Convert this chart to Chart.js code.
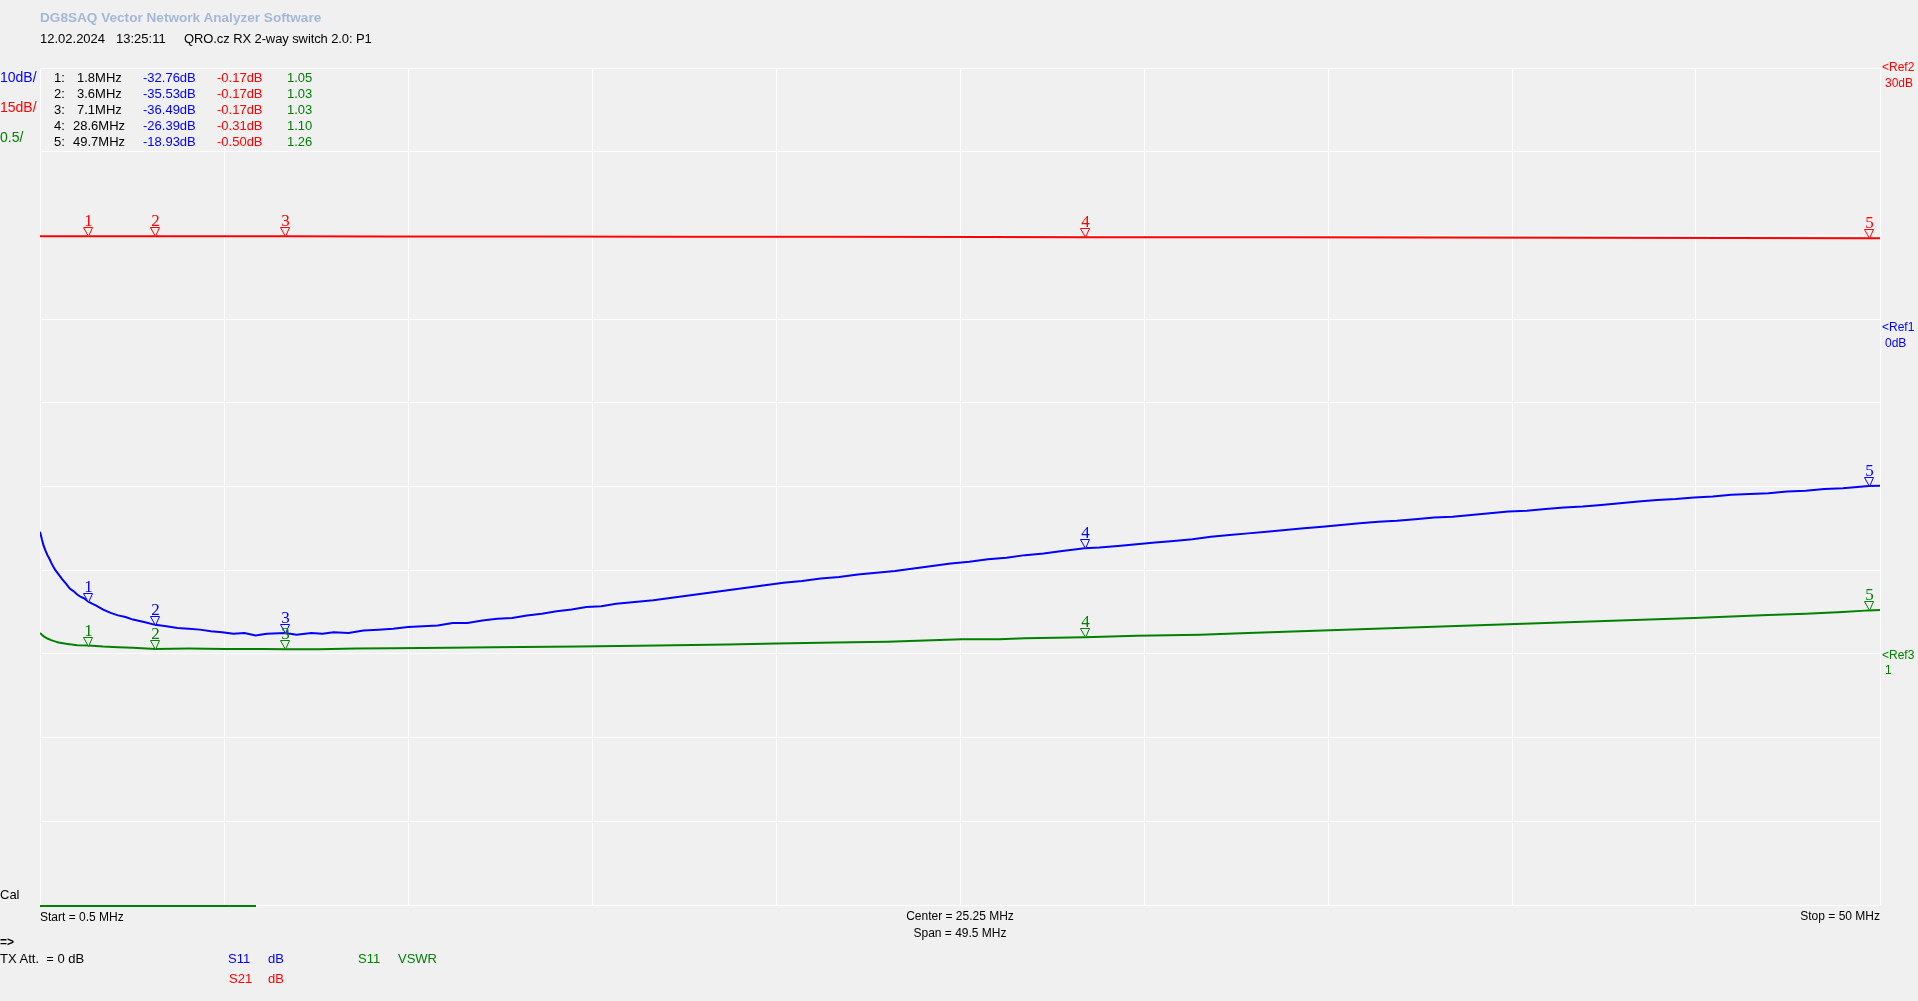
<!DOCTYPE html>
<html>
<head>
<meta charset="utf-8">
<title>DG8SAQ VNA - QRO.cz RX 2-way switch 2.0</title>
<script src="https://cdn.jsdelivr.net/npm/chart.js@4.4.1/dist/chart.umd.min.js"></script>
<style>
  html, body { margin: 0; padding: 0; background: #f0f0f0; overflow: hidden; }
  #wrap { position: relative; width: 1918px; height: 1001px; }
  #chart { position: absolute; left: 0; top: 0; }
  .t { position: absolute; font-family: "Liberation Sans", Arial, sans-serif; white-space: pre; line-height: 1; color: #000; }
  .s12 { font-size: 12px; }
  .s13 { font-size: 13px; }
  .s14 { font-size: 14px; }
  .blue { color: #0000ff; }
  .red { color: #ff0000; }
  .green { color: #008000; }
  .ctr { transform: translateX(-50%); }
</style>
</head>
<body>
<div id="wrap">
  <canvas id="chart" width="1918" height="1001"></canvas>

  <!-- header -->
  <div class="t" style="left:40px;top:11px;font-size:13.6px;font-weight:bold;color:#a3b8d8;">DG8SAQ Vector Network Analyzer Software</div>
  <div class="t s13" style="left:40px;top:32px;">12.02.2024</div>
  <div class="t s13" style="left:116px;top:32px;">13:25:11</div>
  <div class="t s13" style="left:184px;top:32px;letter-spacing:-0.1px;">QRO.cz RX 2-way switch 2.0: P1</div>

  <!-- scale per division -->
  <div class="t s14 blue" style="left:0;top:70px;">10dB/</div>
  <div class="t s14 red" style="left:0;top:100px;">15dB/</div>
  <div class="t s14 green" style="left:0;top:130px;">0.5/</div>

  <!-- marker table -->
  <div class="t s13" style="left:54px;top:71px;">1:</div>
  <div class="t s13" style="left:54px;top:87px;">2:</div>
  <div class="t s13" style="left:54px;top:103px;">3:</div>
  <div class="t s13" style="left:54px;top:119px;">4:</div>
  <div class="t s13" style="left:54px;top:135px;">5:</div>
  <div class="t s13" style="left:77px;top:71px;">1.8MHz</div>
  <div class="t s13" style="left:77px;top:87px;">3.6MHz</div>
  <div class="t s13" style="left:77px;top:103px;">7.1MHz</div>
  <div class="t s13" style="left:73px;top:119px;">28.6MHz</div>
  <div class="t s13" style="left:73px;top:135px;">49.7MHz</div>
  <div class="t s13 blue" style="left:143px;top:71px;">-32.76dB</div>
  <div class="t s13 blue" style="left:143px;top:87px;">-35.53dB</div>
  <div class="t s13 blue" style="left:143px;top:103px;">-36.49dB</div>
  <div class="t s13 blue" style="left:143px;top:119px;">-26.39dB</div>
  <div class="t s13 blue" style="left:143px;top:135px;">-18.93dB</div>
  <div class="t s13 red" style="left:217px;top:71px;">-0.17dB</div>
  <div class="t s13 red" style="left:217px;top:87px;">-0.17dB</div>
  <div class="t s13 red" style="left:217px;top:103px;">-0.17dB</div>
  <div class="t s13 red" style="left:217px;top:119px;">-0.31dB</div>
  <div class="t s13 red" style="left:217px;top:135px;">-0.50dB</div>
  <div class="t s13 green" style="left:287px;top:71px;">1.05</div>
  <div class="t s13 green" style="left:287px;top:87px;">1.03</div>
  <div class="t s13 green" style="left:287px;top:103px;">1.03</div>
  <div class="t s13 green" style="left:287px;top:119px;">1.10</div>
  <div class="t s13 green" style="left:287px;top:135px;">1.26</div>

  <!-- reference labels -->
  <div class="t s12 red" style="left:1882px;top:61px;">&lt;Ref2</div>
  <div class="t s12 red" style="left:1885px;top:77px;">30dB</div>
  <div class="t s12 blue" style="left:1882px;top:321px;">&lt;Ref1</div>
  <div class="t s12 blue" style="left:1885px;top:337px;">0dB</div>
  <div class="t s12 green" style="left:1882px;top:649px;">&lt;Ref3</div>
  <div class="t s12 green" style="left:1885px;top:664px;">1</div>

  <!-- bottom -->
  <div class="t s13" style="left:0;top:888px;">Cal</div>
  <div style="position:absolute;left:40px;top:905px;width:216px;height:2px;background:#008000;"></div>
  <div class="t s12" style="left:40px;top:911px;">Start = 0.5 MHz</div>
  <div class="t s12 ctr" style="left:960px;top:910px;">Center = 25.25 MHz</div>
  <div class="t s12 ctr" style="left:960px;top:927px;">Span = 49.5 MHz</div>
  <div class="t s12" style="right:38px;top:910px;">Stop = 50 MHz</div>
  <div class="t s12" style="left:0;top:936px;font-weight:bold;">=&gt;</div>
  <div class="t s13" style="left:0;top:952px;">TX Att.  = 0 dB</div>
  <div class="t s13 blue" style="left:228px;top:952px;">S11</div>
  <div class="t s13 blue" style="left:268px;top:952px;">dB</div>
  <div class="t s13 green" style="left:358px;top:952px;">S11</div>
  <div class="t s13 green" style="left:398px;top:952px;">VSWR</div>
  <div class="t s13 red" style="left:229px;top:972px;">S21</div>
  <div class="t s13 red" style="left:268px;top:972px;">dB</div>
</div>

<script>
// sweep 0.5 .. 50 MHz, grid every span/10
var xGridMHz = [0.5, 5.45, 10.4, 15.35, 20.3, 25.25, 30.2, 35.15, 40.1, 45.05, 50];

// S11 return loss (dB)
var s11Freq = [0.5, 0.55, 0.6, 0.65, 0.7, 0.75, 0.8, 0.9, 1.0, 1.1, 1.2, 1.3, 1.4, 1.5, 1.6, 1.7, 1.8, 1.9, 2.0, 2.2,
    2.4, 2.6, 2.8, 3.0, 3.3, 3.6, 3.9, 4.2, 4.5, 4.8, 5.1, 5.4, 5.7, 6.0, 6.3, 6.6, 7.1, 7.4, 7.8, 8.1,
    8.4, 8.8, 9.2, 9.6, 10.0, 10.4, 10.8, 11.2, 11.6, 12.0, 12.4, 12.8, 13.2, 13.6, 14.0, 14.4, 14.8, 15.2, 15.6, 16.0,
    16.5, 17.0, 17.5, 18.0, 18.5, 19.0, 19.5, 20.0, 20.5, 21.0, 21.5, 22.0, 22.5, 23.0, 23.5, 24.0, 24.5, 25.0, 25.5, 26.0,
    26.5, 27.0, 27.5, 28.0, 28.6, 29.0, 29.5, 30.0, 30.5, 31.0, 31.5, 32.0, 32.5, 33.0, 33.5, 34.0, 34.5, 35.0, 35.5, 36.0,
    36.5, 37.0, 37.5, 38.0, 38.5, 39.0, 39.5, 40.0, 40.5, 41.0, 41.5, 42.0, 42.5, 43.0, 43.5, 44.0, 44.5, 45.0, 45.5, 46.0,
    46.5, 47.0, 47.5, 48.0, 48.5, 49.0, 49.7, 50.0];
var s11Db = [-24.4, -25.3, -26.1, -26.7, -27.2, -27.6, -28.1, -28.9, -29.5, -30.1, -30.6, -31.2, -31.5, -31.9, -32.2, -32.4, -32.76, -33.0, -33.2, -33.7,
    -34.1, -34.4, -34.6, -34.9, -35.2, -35.53, -35.7, -35.9, -36.0, -36.1, -36.3, -36.4, -36.6, -36.5, -36.8, -36.6, -36.49, -36.7, -36.5, -36.6,
    -36.4, -36.5, -36.2, -36.1, -36.0, -35.8, -35.7, -35.6, -35.3, -35.3, -35.0, -34.8, -34.7, -34.4, -34.2, -33.9, -33.7, -33.4, -33.3, -33.0,
    -32.8, -32.6, -32.3, -32.0, -31.7, -31.4, -31.1, -30.8, -30.5, -30.3, -30.0, -29.8, -29.5, -29.3, -29.1, -28.8, -28.5, -28.2, -28.0, -27.7,
    -27.5, -27.2, -27.0, -26.7, -26.39, -26.3, -26.1, -25.9, -25.7, -25.5, -25.3, -25.0, -24.8, -24.6, -24.4, -24.2, -24.0, -23.8, -23.6, -23.4,
    -23.2, -23.1, -22.9, -22.7, -22.6, -22.4, -22.2, -22.0, -21.9, -21.7, -21.5, -21.4, -21.2, -21.0, -20.8, -20.6, -20.5, -20.3, -20.2, -20.0,
    -19.9, -19.8, -19.6, -19.5, -19.3, -19.2, -18.93, -18.9];

// S21 through loss (dB), red trace
var s21Freq = [0.5, 1.0, 1.8, 3.6, 7.1, 10.0, 14.0, 18.0, 22.0, 26.0, 28.6, 32.0, 34.0, 38.0, 42.0, 46.0, 49.7, 50.0];
var s21Db = [-0.16, -0.17, -0.17, -0.17, -0.17, -0.19, -0.21, -0.24, -0.26, -0.29, -0.31, -0.34, -0.35, -0.39, -0.43, -0.46, -0.50, -0.50];

// S11 VSWR, green trace
var vswrFreq = [0.5, 0.55, 0.6, 0.7, 0.8, 0.9, 1.0, 1.2, 1.5, 1.8, 2.2, 2.6, 3.0, 3.6, 4.5, 5.5, 6.5, 7.1, 8.0, 9.0,
    10.0, 11.5, 12.7, 15.0, 17.1, 19.0, 20.3, 21.9, 23.3, 25.3, 26.3, 27.0, 28.6, 30.0, 31.7, 33.0, 35.0, 37.0, 39.0, 41.0,
    43.0, 45.0, 47.0, 48.0, 49.0, 49.7, 50.0];
var vswr = [1.125, 1.115, 1.105, 1.092, 1.082, 1.075, 1.068, 1.060, 1.052, 1.05, 1.044, 1.040, 1.036, 1.03, 1.032, 1.030, 1.029, 1.028, 1.028, 1.032,
    1.034, 1.036, 1.040, 1.044, 1.050, 1.056, 1.062, 1.068, 1.073, 1.087, 1.088, 1.093, 1.10, 1.108, 1.115, 1.125, 1.14, 1.155, 1.17, 1.185,
    1.20, 1.215, 1.232, 1.24, 1.25, 1.26, 1.262];

// markers 1..5
var markerFreq = [1.8, 3.6, 7.1, 28.6, 49.7];
var markerS11 = [-32.76, -35.53, -36.49, -26.39, -18.93];
var markerS21 = [-0.17, -0.17, -0.17, -0.31, -0.50];
var markerVswr = [1.05, 1.03, 1.03, 1.10, 1.26];

function toXY(xs, ys) {
    var out = [];
    for (var i = 0; i < xs.length; i++) {
        out.push({ x: xs[i], y: ys[i] });
    }
    return out;
}

// draws the little numbered "down triangle" markers on each trace
var markerPlugin = {
    id: 'vnaMarkers',
    afterDatasetsDraw: function (chart) {
        var ctx = chart.ctx;
        var xs = chart.scales.x;
        var sets = [
            { scale: 'yS21', vals: markerS21, color: '#ff0000' },
            { scale: 'yS11', vals: markerS11, color: '#0000ff' },
            { scale: 'yVswr', vals: markerVswr, color: '#008000' }
        ];
        ctx.save();
        ctx.font = '17px "Liberation Serif", "Times New Roman", serif';
        ctx.textAlign = 'center';
        ctx.textBaseline = 'alphabetic';
        ctx.lineWidth = 1;
        sets.forEach(function (s) {
            var ys = chart.scales[s.scale];
            for (var i = 0; i < markerFreq.length; i++) {
                var px = Math.round(xs.getPixelForValue(markerFreq[i]));
                var py = Math.round(ys.getPixelForValue(s.vals[i]));
                ctx.beginPath();
                ctx.moveTo(px - 4.5, py - 8.5);
                ctx.lineTo(px + 4.5, py - 8.5);
                ctx.lineTo(px + 0.5, py + 0.5);
                ctx.closePath();
                ctx.fillStyle = '#f0f0f0';
                ctx.fill();
                ctx.strokeStyle = s.color;
                ctx.stroke();
                ctx.fillStyle = s.color;
                ctx.fillText(String(i + 1), px + 0.5, py - 10);
            }
        });
        ctx.restore();
    }
};

var ctx = document.getElementById('chart').getContext('2d');
var chart = new Chart(ctx, {
    type: 'line',
    data: {
        datasets: [
            {
                label: 'S21 dB',
                data: toXY(s21Freq, s21Db),
                yAxisID: 'yS21',
                borderColor: '#ff0000',
                borderWidth: 2
            },
            {
                label: 'S11 VSWR',
                data: toXY(vswrFreq, vswr),
                yAxisID: 'yVswr',
                borderColor: '#008000',
                borderWidth: 2
            },
            {
                label: 'S11 dB',
                data: toXY(s11Freq, s11Db),
                yAxisID: 'yS11',
                borderColor: '#0000ff',
                borderWidth: 2
            }
        ]
    },
    options: {
        responsive: false,
        animation: false,
        devicePixelRatio: 1,
        layout: { padding: { left: 40, top: 68, right: 38, bottom: 96 } },
        elements: {
            point: { radius: 0, hoverRadius: 0 },
            line: { tension: 0, fill: false }
        },
        plugins: {
            legend: { display: false },
            tooltip: { enabled: false }
        },
        scales: {
            x: {
                type: 'linear',
                min: 0.5,
                max: 50,
                afterBuildTicks: function (scale) {
                    scale.ticks = xGridMHz.map(function (v) { return { value: v }; });
                },
                ticks: { display: false },
                border: { display: false },
                grid: { color: '#ffffff', lineWidth: 1, drawTicks: false }
            },
            yS21: {
                position: 'left',
                min: -120,
                max: 30,
                ticks: { display: false, stepSize: 15 },
                border: { display: false },
                grid: { color: '#ffffff', lineWidth: 1, drawTicks: false }
            },
            yS11: { display: false, min: -69, max: 31 },
            yVswr: { display: false, min: -0.5, max: 4.5 }
        }
    },
    plugins: [markerPlugin]
});
</script>
</body>
</html>
